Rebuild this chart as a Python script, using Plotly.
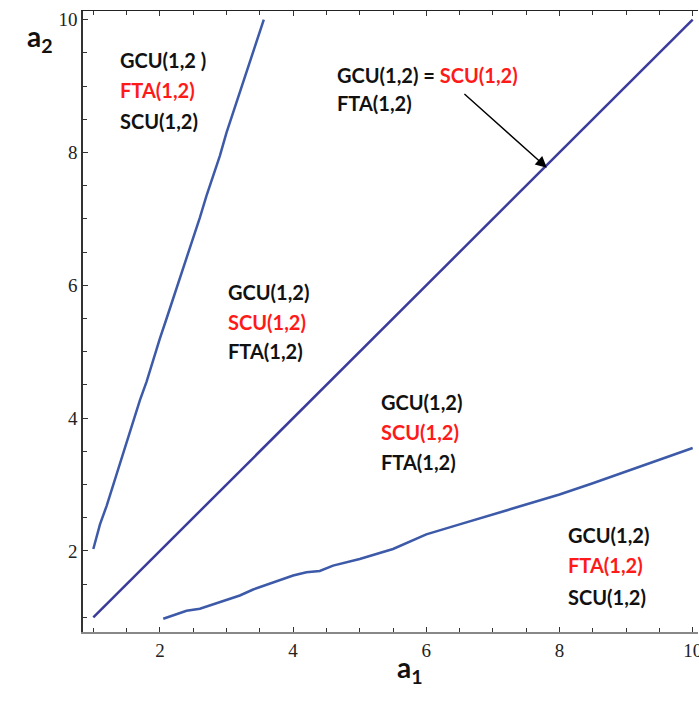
import plotly.graph_objects as go

# ---- data ----
diag_x = [1, 2, 3, 4, 5, 6, 7, 8, 9, 10]
diag_y = [1, 2, 3, 4, 5, 6, 7, 8, 9, 10]

upper_x = [1.0, 1.05, 1.1, 1.2, 1.3, 1.4, 1.5, 1.6, 1.7, 1.8, 1.9, 2.0, 2.1, 2.2,
           2.3, 2.4, 2.5, 2.6, 2.7, 2.8, 2.9, 3.0, 3.1, 3.2, 3.3, 3.4, 3.5, 3.56]
upper_y = [2.03, 2.2, 2.4, 2.68, 3.0, 3.33, 3.62, 3.95, 4.27, 4.55, 4.88, 5.2, 5.5, 5.8,
           6.12, 6.4, 6.72, 7.02, 7.35, 7.65, 7.95, 8.3, 8.6, 8.9, 9.2, 9.5, 9.8, 10.0]

lower_x = [2.05, 2.2, 2.4, 2.6, 2.8, 3.0, 3.2, 3.4, 3.6, 3.8, 4.0, 4.2, 4.4, 4.6, 4.8,
           5.0, 5.5, 6.0, 6.5, 7.0, 7.5, 8.0, 8.5, 9.0, 9.5, 10.0]
lower_y = [0.98, 1.03, 1.1, 1.13, 1.2, 1.27, 1.33, 1.42, 1.49, 1.56, 1.63, 1.68, 1.7, 1.78,
           1.83, 1.88, 2.03, 2.25, 2.4, 2.55, 2.7, 2.85, 3.02, 3.2, 3.38, 3.55]

tick_vals = [2, 4, 6, 8, 10]
tick_text = ["2", "4", "6", "8", "10"]

RED = "#ff1a1a"
BLK = "#111111"

# region labels: (lines, colors)
region1 = (["GCU(1,2 )", "FTA(1,2)", "SCU(1,2)"], [BLK, RED, BLK])
region3 = (["GCU(1,2)", "SCU(1,2)", "FTA(1,2)"], [BLK, RED, BLK])
region4 = (["GCU(1,2)", "SCU(1,2)", "FTA(1,2)"], [BLK, RED, BLK])
region5 = (["GCU(1,2)", "FTA(1,2)", "SCU(1,2)"], [BLK, RED, BLK])

fig = go.Figure()
fig.add_trace(go.Scatter(x=diag_x, y=diag_y, mode="lines",
                         line=dict(color="#3b3b9c", width=2.5), showlegend=False))
fig.add_trace(go.Scatter(x=upper_x, y=upper_y, mode="lines",
                         line=dict(color="#3d5aa8", width=2.5), showlegend=False))
fig.add_trace(go.Scatter(x=lower_x, y=lower_y, mode="lines",
                         line=dict(color="#3d5aa8", width=2.5), showlegend=False))
# dummy trace to activate top axis
fig.add_trace(go.Scatter(x=[None], y=[None], xaxis="x2", showlegend=False))

XR = [0.845, 10.08]
YR = [0.78, 10.13]
tickfont = dict(family="Liberation Serif", size=19, color="#222222")

fig.update_layout(
    width=699, height=715,
    margin=dict(l=83, r=1, t=11, b=83),
    paper_bgcolor="white", plot_bgcolor="white",
    xaxis=dict(range=XR, tickvals=tick_vals, ticktext=tick_text, ticks="inside",
               ticklen=5, tickcolor="#333", showgrid=False, zeroline=False, automargin=False,
               ticklabeloverflow="allow",
               showline=True, linecolor="#888888", linewidth=2, tickfont=tickfont,
               minor=dict(dtick=0.5, tick0=0, ticks="inside", ticklen=4, tickcolor="#333")),
    xaxis2=dict(range=XR, overlaying="x", side="top", tickvals=tick_vals, ticks="inside",
                ticklen=5, tickcolor="#333", showticklabels=False, showgrid=False,
                zeroline=False, showline=True, linecolor="#222", linewidth=1, automargin=False,
                minor=dict(dtick=0.5, tick0=0, ticks="inside", ticklen=4, tickcolor="#333")),
    yaxis=dict(range=YR, tickvals=tick_vals, ticktext=tick_text, ticks="inside",
               ticklen=5, tickcolor="#333", showgrid=False, zeroline=False, automargin=False,
               ticklabeloverflow="allow",
               showline=True, linecolor="#333333", linewidth=1.5, tickfont=tickfont,
               minor=dict(dtick=0.5, tick0=0, ticks="inside", ticklen=4, tickcolor="#333")),
)

font_lbl = dict(family="Lato", size=20)

def add_region(lines_colors, x, ys):
    lines, colors = lines_colors
    for t, c, y in zip(lines, colors, ys):
        fig.add_annotation(x=x, y=y, text="<b>%s</b>" % t, showarrow=False,
                           xanchor="left", yanchor="middle",
                           font=dict(color=c, **font_lbl))

add_region(region1, 1.37, [9.39, 8.94, 8.48])
add_region(region3, 2.99, [5.9, 5.45, 5.01])
add_region(region4, 5.29, [4.24, 3.79, 3.34])
add_region(region5, 8.1, [2.24, 1.79, 1.31])

fig.add_annotation(x=4.63, y=9.17, xanchor="left", yanchor="middle", showarrow=False,
                   text="<b>GCU(1,2) = <span style='color:%s'>SCU(1,2)</span></b>" % RED,
                   font=dict(color=BLK, **font_lbl))
fig.add_annotation(x=4.63, y=8.75, xanchor="left", yanchor="middle", showarrow=False,
                   text="<b>FTA(1,2)</b>", font=dict(color=BLK, **font_lbl))

# arrow
fig.add_annotation(x=7.81, y=7.77, ax=6.55, ay=8.9, axref="x", ayref="y",
                   xref="x", yref="y", text="", showarrow=True,
                   arrowhead=2, arrowsize=1.6, arrowwidth=1.4, arrowcolor="black")

# axis titles
fig.add_annotation(xref="paper", yref="paper", x=0.532, y=-0.093, showarrow=False,
                   text="<b>a<sub>1</sub></b>", font=dict(family="Lato", size=28, color=BLK))
fig.add_annotation(xref="paper", yref="paper", x=-0.095, y=0.99, showarrow=False,
                   text="<b>a<sub>2</sub></b>", font=dict(family="Lato", size=28, color=BLK))

fig.write_html("out.html", config={"displayModeBar": False},
               post_script="document.body.style.margin='0';"
                           "document.documentElement.style.overflow='hidden';")
